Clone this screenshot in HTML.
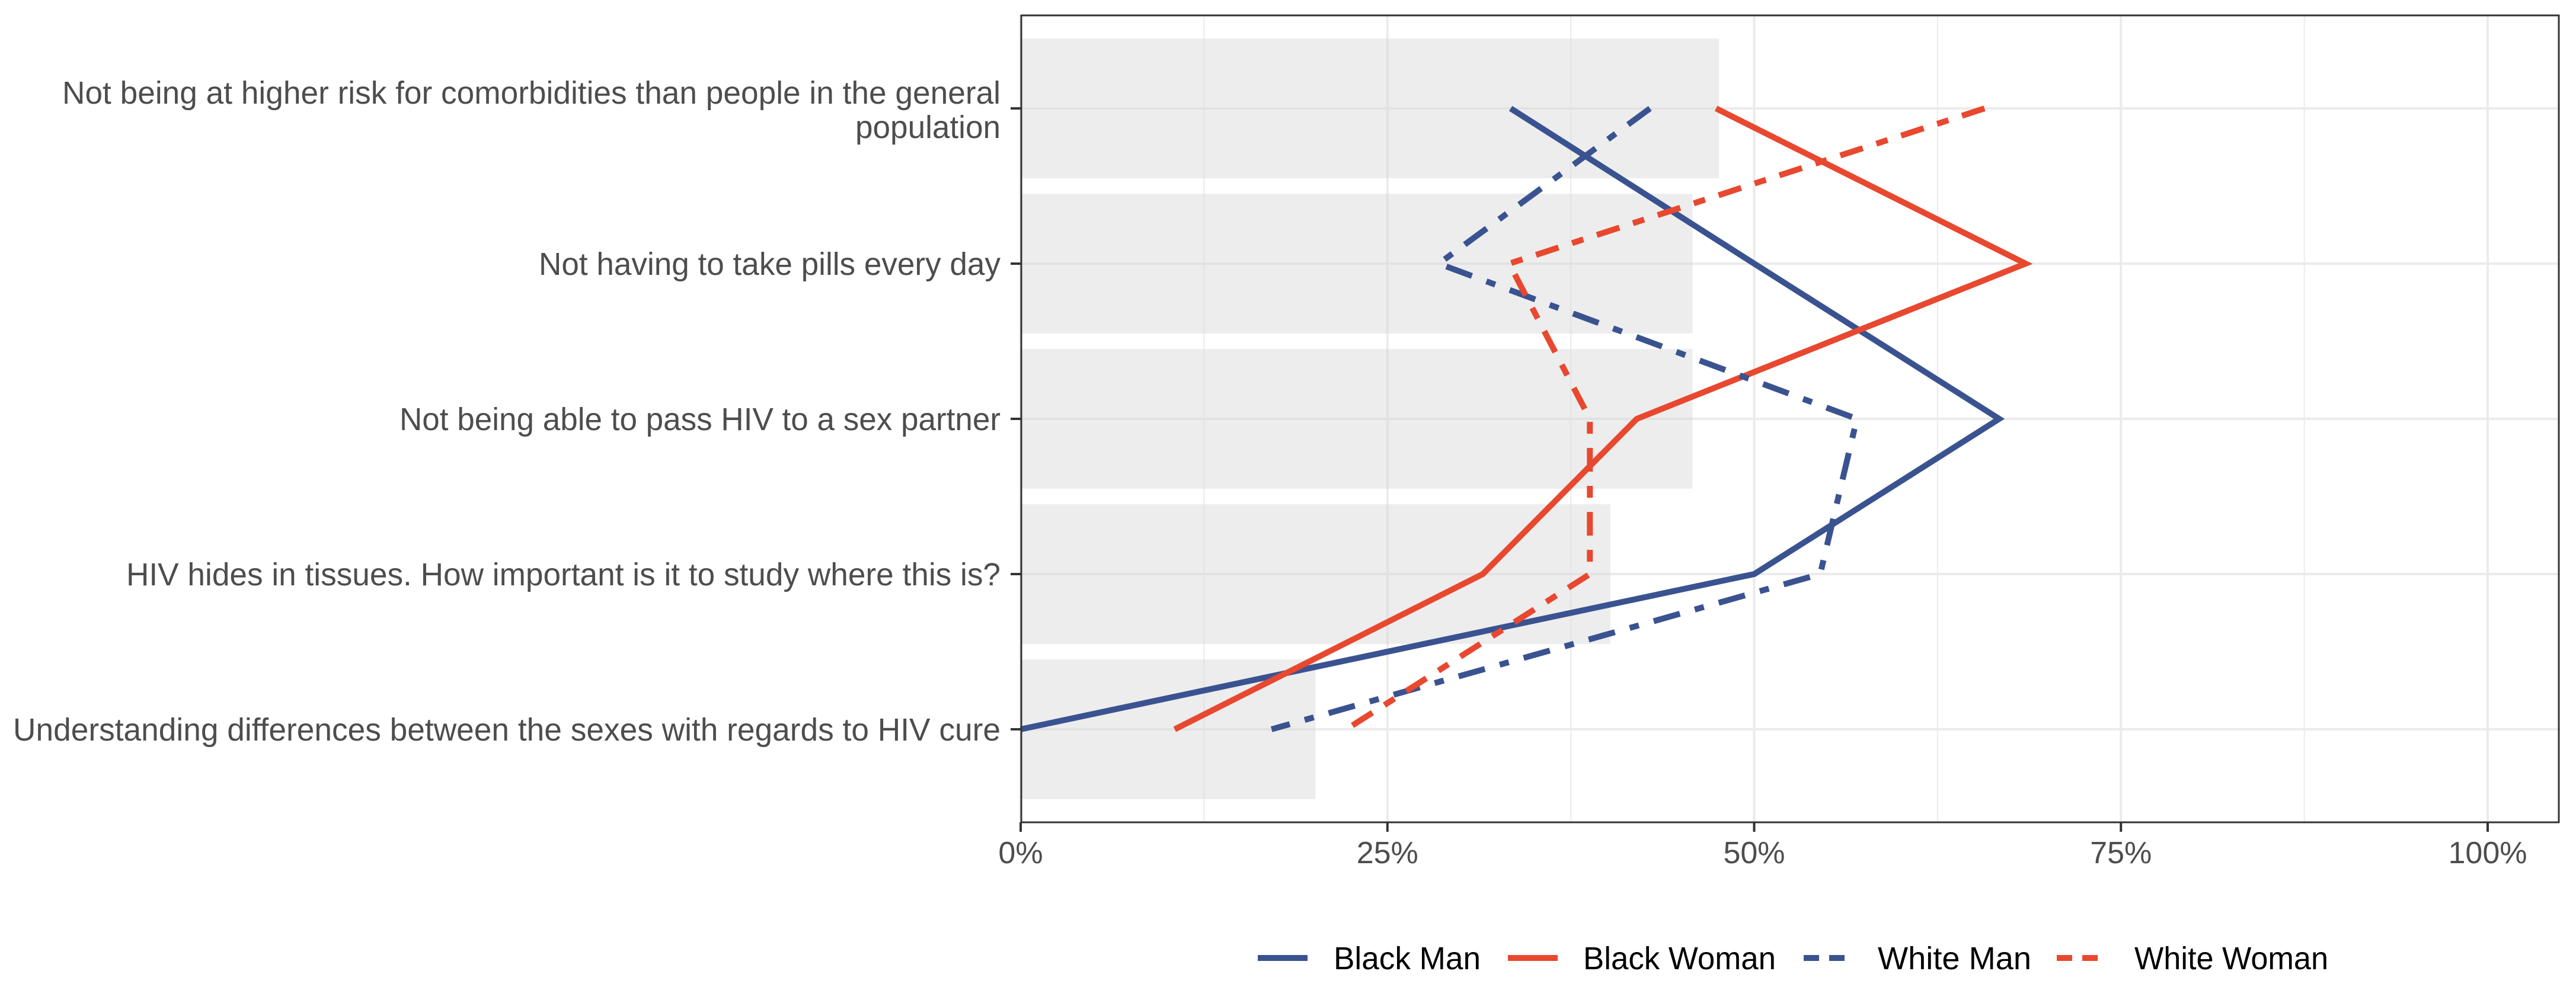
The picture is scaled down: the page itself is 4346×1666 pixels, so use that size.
<!DOCTYPE html>
<html><head><meta charset="utf-8">
<style>
html,body{margin:0;padding:0;background:#fff;}
svg{display:block;font-family:"Liberation Sans",Arial,sans-serif;}
</style></head>
<body>
<svg id="chart" width="4346" height="1666" viewBox="0 0 4346 1666" xmlns="http://www.w3.org/2000/svg">
<rect x="0" y="0" width="4346" height="1666" fill="#fff"/>
<g id="grid"></g>
<g id="bars"></g>
<g id="lines"></g>
<rect x="1723" y="26" width="2594" height="1362" fill="none" stroke="#333" stroke-width="3"/>
<g id="yaxis"></g>
<g id="xaxis"></g>
<g id="legend"></g>
</svg>
<script>
const categories = [
  ["Not being at higher risk for comorbidities than people in the general", "population"],
  ["Not having to take pills every day"],
  ["Not being able to pass HIV to a sex partner"],
  ["HIV hides in tissues. How important is it to study where this is?"],
  ["Understanding differences between the sexes with regards to HIV cure"]
];
const barValues = [47.6, 45.8, 45.8, 40.2, 20.1];
const seriesNames = ["Black Man", "Black Woman", "White Man", "White Woman"];
const blackMan = [33.4, 50.0, 66.7, 50.0, 0.0];
const blackWoman = [47.4, 68.5, 42.0, 31.5, 10.5];
const whiteMan = [42.9, 28.5, 57.0, 54.5, 17.1];
const whiteWoman = [65.7, 33.3, 38.8, 38.8, 22.2];
const xTicks = [0, 25, 50, 75, 100];
const xTickLabels = ["0%", "25%", "50%", "75%", "100%"];

const NS = "http://www.w3.org/2000/svg";
const X0 = 1722, X100 = 4197, ROW0 = 183, ROWSTEP = 262;
const PT = 26, PB = 1388, PL = 1723, PR = 4317;
const labelWidths = [[1583, 245], [779], [1014], [1475], [1666]];
function xs(v){ return X0 + (X100 - X0) * v / 100; }
function ys(i){ return ROW0 + ROWSTEP * i; }
function mk(tag, attrs, parent){
  const e = document.createElementNS(NS, tag);
  for (const k in attrs) e.setAttribute(k, attrs[k]);
  parent.appendChild(e); return e;
}
const grid = document.getElementById('grid');
for (let v = 12.5; v < 110; v += 25) {
  const l = mk('line', {x1: xs(v), x2: xs(v), y1: PT, y2: PB, stroke: '#EBEBEB', 'stroke-width': 2}, grid);
  
  
}
xTicks.forEach(v => {
  const l = mk('line', {x1: xs(v), x2: xs(v), y1: PT, y2: PB, stroke: '#EBEBEB', 'stroke-width': 4}, grid);
  
  
});
categories.forEach((c, i) => {
  const l = mk('line', {x1: PL, x2: PR, y1: ys(i), y2: ys(i), stroke: '#EBEBEB', 'stroke-width': 4}, grid);
  
  
});
const bars = document.getElementById('bars');
barValues.forEach((v, i) => {
  const r = mk('rect', {x: xs(0), y: ys(i) - ROWSTEP * 0.45, width: xs(v) - xs(0), height: ROWSTEP * 0.9, fill: '#d8d8d8', 'fill-opacity': 0.45}, bars);
  
  
});
const styles = [
  {data: blackMan, color: '#3A5390', dash: ''},
  {data: blackWoman, color: '#E8482F', dash: ''},
  {data: whiteMan, color: '#3A5390', dash: '46 26 16 26'},
  {data: whiteWoman, color: '#E8482F', dash: '40 24 20 24'}
];
const lines = document.getElementById('lines');
styles.forEach((s, k) => {
  const pts = s.data.map((v, i) => xs(v) + ',' + ys(i)).join(' ');
  const attrs = {points: pts, fill: 'none', stroke: s.color, 'stroke-width': 10, 'stroke-linejoin': 'miter'};
  if (s.dash) attrs['stroke-dasharray'] = s.dash;
  const p = mk('polyline', attrs, lines);
  
  
});
const yaxis = document.getElementById('yaxis');
categories.forEach((c, i) => {
  const t = mk('line', {x1: 1705, x2: PL, y1: ys(i), y2: ys(i), stroke: '#333', 'stroke-width': 4}, yaxis);
  
  
  const offs = c.length === 2 ? [-8, 50] : [19];
  c.forEach((line, j) => {
    const tx = mk('text', {x: 1688, y: ys(i) + offs[j], 'text-anchor': 'end', 'font-size': 54, fill: '#4D4D4D', textLength: labelWidths[i][j], lengthAdjust: 'spacingAndGlyphs'}, yaxis);
    tx.textContent = line;
    
    
  });
});
const xaxis = document.getElementById('xaxis');
xTicks.forEach((v, i) => {
  const t = mk('line', {x1: xs(v), x2: xs(v), y1: PB, y2: PB + 16, stroke: '#333', 'stroke-width': 4}, xaxis);
  
  
  const tx = mk('text', {x: xs(v), y: 1457, 'text-anchor': 'middle', 'font-size': 52, fill: '#4D4D4D'}, xaxis);
  tx.textContent = xTickLabels[i];
  
  
});
const legend = document.getElementById('legend');
const keyX = [2122, 2544, 3043, 3470];
const txtX = [2250, 2671, 3168, 3601];
const txtW = [248, 325, 259, 327];
const keyDash = ['', '', '26 17', '26 17'];
seriesNames.forEach((n, k) => {
  const a = {x1: keyX[k], x2: keyX[k] + 84, y1: 1617, y2: 1617, stroke: styles[k].color, 'stroke-width': 10};
  if (keyDash[k]) a['stroke-dasharray'] = keyDash[k];
  const l = mk('line', a, legend);
  
  
  const t = mk('text', {x: txtX[k], y: 1636, 'font-size': 54, fill: '#000', textLength: txtW[k], lengthAdjust: 'spacingAndGlyphs'}, legend);
  t.textContent = n;
  
  
});
</script>
</body></html>
